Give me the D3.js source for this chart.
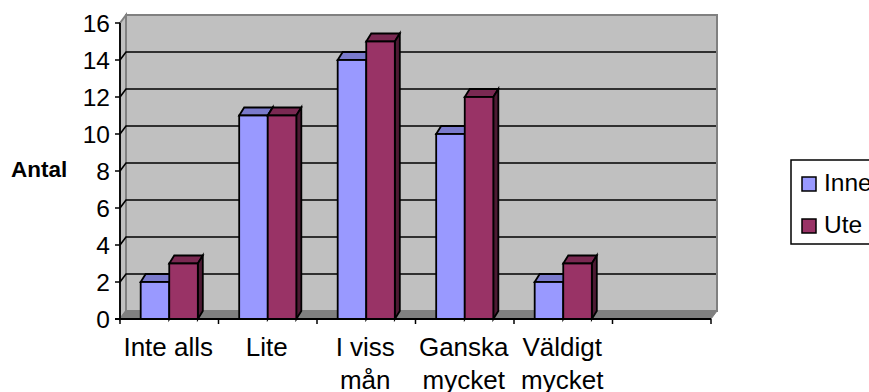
<!DOCTYPE html>
<html>
<head>
<meta charset="utf-8">
<script src="https://cdn.jsdelivr.net/npm/d3@7"></script>
<style>
html, body { margin: 0; padding: 0; background: #fff; overflow: hidden; }
text { font-family: "Liberation Sans", Arial, sans-serif; fill: #000; }
</style>
</head>
<body>
<svg id="chart" width="869" height="392"></svg>
<script>
var categories = [["Inte alls"], ["Lite"], ["I viss", "mån"], ["Ganska", "mycket"], ["Väldigt", "mycket"], [""]];
var inne = [2, 11, 14, 10, 2];
var ute = [3, 11, 15, 12, 3];
var yTicks = [0, 2, 4, 6, 8, 10, 12, 14, 16];
var seriesNames = ["Inne", "Ute"];

var svg = d3.select("#chart");

var x = d3.scaleBand().domain(d3.range(categories.length)).range([120, 711]);
var y = d3.scaleLinear().domain([0, 16]).range([319, 23]);

// wall sits behind the front axis by this offset
var wallDx = 6, wallDy = -8;
// bars have a smaller depth on x
var barDx = 5, barDy = -8;
var barW = x.bandwidth() * 0.29;

var gridG = svg.append("g");

// back wall, left wall and floor
gridG.append("polygon")
  .attr("points", [[120 + wallDx, y(16) + wallDy], [711 + wallDx, y(16) + wallDy], [711 + wallDx, y(0) + wallDy], [120 + wallDx, y(0) + wallDy]].join(" "))
  .attr("fill", "#c0c0c0").attr("stroke", "#808080").attr("stroke-width", 2);
gridG.append("polygon")
  .attr("points", [[120, y(16)], [120 + wallDx, y(16) + wallDy], [120 + wallDx, y(0) + wallDy], [120, y(0)]].join(" "))
  .attr("fill", "#c0c0c0").attr("stroke", "#808080").attr("stroke-width", 2);
gridG.append("polygon")
  .attr("points", [[120, y(0)], [120 + wallDx, y(0) + wallDy], [711 + wallDx, y(0) + wallDy], [711, y(0)]].join(" "))
  .attr("fill", "#808080").attr("stroke", "#808080").attr("stroke-width", 1);

// gridlines on the back wall, with the slanted bit on the left wall
gridG.selectAll(".grid")
  .data(yTicks.filter(function(d) { return d > 0 && d < 16; }))
  .enter().append("polyline")
  .attr("fill", "none")
  .attr("points", function(d) {
    return [[120, y(d)], [120 + wallDx, y(d) + wallDy], [711 + wallDx - 1, y(d) + wallDy]].join(" ");
  })
  .attr("stroke", "#000").attr("stroke-width", 1.6);

// axes
var yAxis = svg.append("g");
yAxis.append("line").attr("x1", 120).attr("x2", 120).attr("y1", y(16)).attr("y2", y(0)).attr("stroke", "#000").attr("stroke-width", 1.8);
yAxis.selectAll(".tick").data(yTicks).enter().append("line")
  .attr("x1", 115).attr("x2", 120)
  .attr("y1", function(d) { return y(d); })
  .attr("y2", function(d) { return y(d); })
  .attr("stroke", "#000").attr("stroke-width", 1.5);
yAxis.selectAll(".lab").data(yTicks).enter().append("text")
  .attr("x", 110).attr("y", function(d) { return y(d) + 8.5; })
  .attr("text-anchor", "end").attr("font-size", 24.5)
  .text(function(d) { return d; });

function drawBars(values, offset, front, top, side) {
  var g = svg.append("g");
  var bars = g.selectAll("g").data(values).enter().append("g");
  function left(d, i) { return x(i) + x.bandwidth() / 2 + offset; }
  bars.append("polygon").attr("fill", top).attr("stroke", "#000").attr("stroke-width", 1.8)
    .attr("points", function(d, i) {
      var l = left(d, i), t = y(d);
      return [[l, t], [l + barDx, t + barDy], [l + barW + barDx, t + barDy], [l + barW, t]].join(" ");
    });
  bars.append("polygon").attr("fill", side).attr("stroke", "#000").attr("stroke-width", 1.8)
    .attr("points", function(d, i) {
      var l = left(d, i), t = y(d);
      return [[l + barW, t], [l + barW + barDx, t + barDy], [l + barW + barDx, y(0) + barDy], [l + barW, y(0)]].join(" ");
    });
  bars.append("rect").attr("fill", front).attr("stroke", "#000").attr("stroke-width", 1.8)
    .attr("x", left).attr("y", function(d) { return y(d); })
    .attr("width", barW).attr("height", function(d) { return y(0) - y(d); });
}

drawBars(inne, -barW, "#9999ff", "#7a7acc", "#4d4d80");
drawBars(ute, 0, "#993366", "#7a2952", "#4d1a33");

// x axis on top of the bar feet
var xAxis = svg.append("g");
xAxis.append("line").attr("x1", 115).attr("x2", 711).attr("y1", y(0)).attr("y2", y(0)).attr("stroke", "#000").attr("stroke-width", 1.8);
xAxis.selectAll(".tick").data(d3.range(categories.length + 1)).enter().append("line")
  .attr("x1", function(d) { return 120 + d * x.bandwidth(); })
  .attr("x2", function(d) { return 120 + d * x.bandwidth(); })
  .attr("y1", y(0)).attr("y2", y(0) + 5)
  .attr("stroke", "#000").attr("stroke-width", 1.5);

var catText = svg.selectAll(".cat").data(categories).enter().append("text")
  .attr("text-anchor", "middle").attr("font-size", 26);
catText.selectAll("tspan").data(function(d, i) { return d.map(function(s, j) { return { s: s, j: j, i: i }; }); })
  .enter().append("tspan")
  .attr("x", function(d) { return x(d.i) + x.bandwidth() / 2 - 1; })
  .attr("y", function(d) { return 356 + d.j * 33; })
  .text(function(d) { return d.s; });

// axis title
svg.append("text").attr("x", 11).attr("y", 177).attr("font-size", 22.5).attr("font-weight", "bold").text("Antal");

// legend runs past the right edge like the original
svg.append("rect").attr("x", 791).attr("y", 160).attr("width", 100).attr("height", 84)
  .attr("fill", "#fff").attr("stroke", "#000").attr("stroke-width", 1.5);
var legendColors = ["#9999ff", "#993366"];
var leg = svg.selectAll(".leg").data(seriesNames).enter().append("g");
leg.append("rect").attr("x", 802)
  .attr("y", function(d, i) { return 177 + i * 42; })
  .attr("width", 14).attr("height", 14)
  .attr("fill", function(d, i) { return legendColors[i]; })
  .attr("stroke", "#000").attr("stroke-width", 1.5);
leg.append("text").attr("x", 824)
  .attr("y", function(d, i) { return 191 + i * 42; })
  .attr("font-size", 24.5).text(function(d) { return d; });
</script>
</body>
</html>
